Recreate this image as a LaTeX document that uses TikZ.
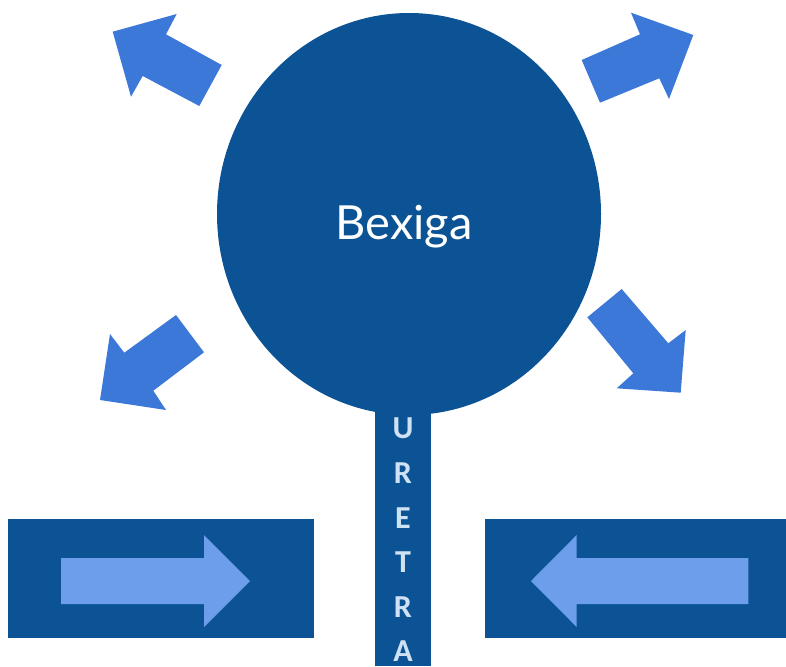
\documentclass[tikz,border=0pt]{standalone}
\usepackage{fontspec}
\setmainfont{Carlito}
\newfontfamily\latofont{Lato}
\usetikzlibrary{shapes.geometric}
\definecolor{darkblue}{HTML}{0B5394}
\definecolor{midblue}{HTML}{3C78D8}
\definecolor{lightblue}{HTML}{6D9EEB}
\definecolor{paleblue}{HTML}{CFE2F3}
\tikzset{
  organ/.style={fill=darkblue, draw=none},
  bigarrow/.style={fill=midblue, draw=none},
  inarrow/.style={fill=lightblue, draw=none},
  letter/.style={text=paleblue, font=\bfseries\fontsize{32}{32}\selectfont, inner sep=0pt},
}
\begin{document}
\begin{tikzpicture}[x=1pt,y=-1pt]
\useasboundingbox (0,0) rectangle (786,666);
% urethra
\fill[organ] (375,380) rectangle (431,666);
% bladder
\node[organ, ellipse, minimum width=384pt, minimum height=402pt, inner sep=0pt] (bladder) at (409,214) {};
\node[text=white, font=\latofont\fontsize{47}{47}\selectfont, inner sep=0pt, anchor=base] (bexiga) at (404,239.3) {Bexiga};
% urethra letters
\node[letter] (u1) at (403,428) {U};
\node[letter] (u2) at (403,473) {R};
\node[letter] (u3) at (403,518) {E};
\node[letter] (u4) at (403,562) {T};
\node[letter] (u5) at (403,607) {R};
\node[letter] (u6) at (403,651) {A};
% diagonal arrows
\fill[bigarrow] (112.7,31.7) -- (176.7,14) -- (166,34.3) -- (221.7,65) -- (199.3,106) -- (142.7,76) -- (131,96.7) -- cycle;
\fill[bigarrow] (693.3,35) -- (631,12.7) -- (640,34.3) -- (581.7,60) -- (600,102.7) -- (659.3,78.3) -- (669,99) -- cycle;
\fill[bigarrow] (100,400) -- (110,334) -- (124.3,352.7) -- (176,315) -- (204,352.3) -- (153.3,390.7) -- (166,410) -- cycle;
\fill[bigarrow] (680.7,392.7) -- (685.7,330) -- (668.3,343.3) -- (621.7,289) -- (587.3,317.3) -- (633.3,373.3) -- (616.7,388.3) -- cycle;
% bottom boxes
\node[organ, rectangle, minimum width=306pt, minimum height=119pt, inner sep=0pt] (leftbox) at (161,578.5) {};
\node[organ, rectangle, minimum width=301pt, minimum height=119pt, inner sep=0pt] (rightbox) at (635.5,578.5) {};
\fill[inarrow] (61,558) -- (204,558) -- (204,535) -- (250,581) -- (204,627) -- (204,604) -- (61,604) -- cycle;
\fill[inarrow] (748.3,558) -- (576.7,558) -- (576.7,535) -- (531,581) -- (576.7,627) -- (576.7,604) -- (748.3,604) -- cycle;
\end{tikzpicture}
\end{document}
